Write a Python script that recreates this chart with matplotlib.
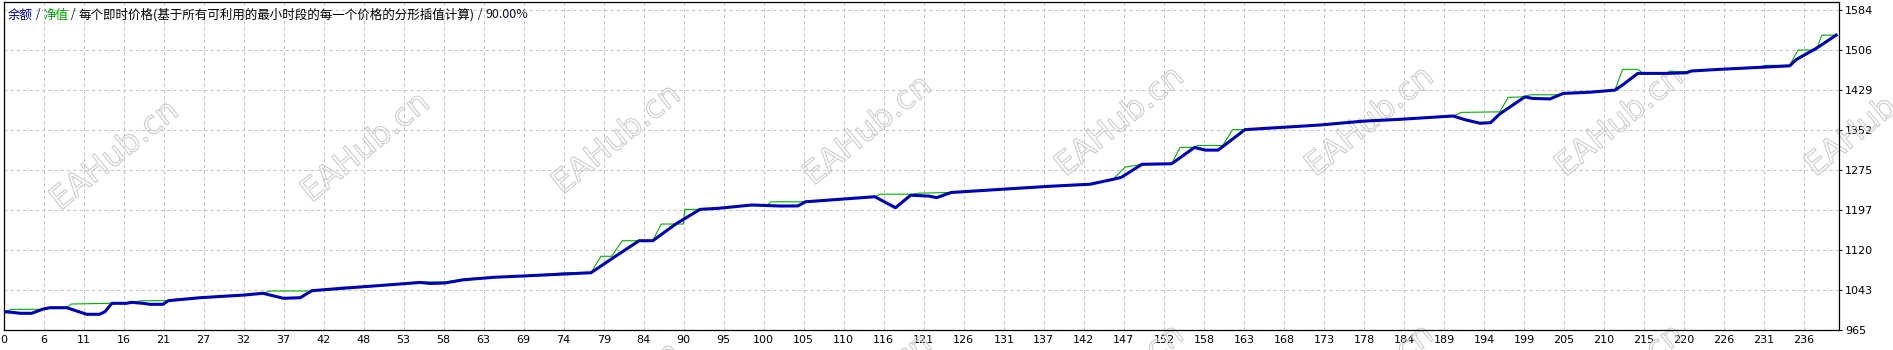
import matplotlib
matplotlib.use('Agg')
import matplotlib.pyplot as plt
import matplotlib.patheffects as pe
import numpy as np

# thick blue curve: trade number, account value
blue_x = [0, 1.1, 2.2, 3.7, 5.2, 6.1, 8.3, 9.6, 10.9, 12.6, 13.3, 14.2, 16.1, 16.8,
          18.3, 19.2, 20.9, 21.6, 25.8, 31.6, 34.0, 36.7, 38.9, 40.4, 43.2, 47.2,
          52.0, 54.6, 55.9, 57.9, 60.2, 64.3, 68.0, 73.5, 77.0, 80.0, 83.3, 85.1,
          88.1, 91.3, 93.6, 98.1, 101.9, 104.1, 105.1, 114.2, 116.9, 118.9, 121.3,
          122.3, 124.2, 130.6, 137.1, 142.4, 145.4, 146.5, 149.2, 153.1, 156.1,
          157.5, 159.2, 162.7, 166.8, 172.5, 178.2, 183.0, 190.0, 191.5, 193.5,
          194.9, 196.1, 199.4, 200.4, 202.7, 204.4, 207.9, 211.2, 212.2, 214.2,
          218.0, 220.6, 221.2, 224.9, 234.1, 235.0, 237.6, 240.2]
blue_y = [1000.4, 999.2, 997.3, 997.3, 1005.6, 1008.1, 1008.1, 1001.7, 995.4, 995.4,
          1000.4, 1016.6, 1016.6, 1018.5, 1016.6, 1014.7, 1014.7, 1021.7, 1027.5,
          1032.7, 1036.0, 1026.3, 1027.5, 1041.0, 1044.3, 1048.7, 1054.0, 1057.0,
          1055.0, 1056.0, 1062.0, 1067.0, 1069.4, 1073.3, 1075.8, 1105.6, 1137.7,
          1137.7, 1170.0, 1198.4, 1200.3, 1206.8, 1204.8, 1205.0, 1213.0, 1222.8,
          1201.5, 1225.8, 1224.0, 1221.0, 1231.0, 1237.0, 1243.0, 1247.0, 1256.4,
          1260.3, 1285.5, 1286.6, 1318.2, 1313.0, 1313.0, 1352.6, 1356.3, 1361.5,
          1369.0, 1372.5, 1379.0, 1372.0, 1365.0, 1366.0, 1383.0, 1416.0, 1413.0,
          1412.0, 1422.6, 1425.0, 1429.0, 1439.0, 1461.4, 1461.4, 1462.6, 1466.0,
          1469.2, 1476.0, 1488.5, 1510.0, 1535.5]

# thin green curve
green_x = [0, 1.1, 4.8, 5.2, 6.1, 8.3, 8.9, 14.2, 16.1, 16.8, 18.1, 21.6, 22.7, 24.4,
           25.8, 31.6, 34.0, 34.9, 40.2, 40.4, 43.2, 44.1, 46.7, 47.2, 52.0, 54.6,
           57.9, 60.2, 61.5, 64.3, 68.0, 73.7, 77.0, 78.3, 79.7, 81.1, 85.1, 86.2,
           89.1, 89.3, 91.3, 93.6, 98.1, 100.1, 100.6, 105.1, 114.2, 114.9, 119.2,
           119.9, 124.2, 130.6, 137.1, 142.4, 145.4, 147.0, 149.2, 153.1, 154.2,
           156.1, 156.5, 159.8, 161.1, 162.7, 166.8, 172.5, 178.2, 183.0, 190.0,
           191.1, 196.1, 197.2, 199.4, 200.0, 204.2, 205.0, 207.9, 211.2, 212.2,
           214.2, 214.9, 218.0, 218.4, 221.0, 221.2, 224.9, 230.2, 230.9, 234.1,
           235.2, 237.6, 238.3, 240.2]
green_y = [1000.4, 1005.0, 1005.0, 1006.0, 1008.8, 1008.8, 1015.3, 1016.6, 1017.0,
           1018.5, 1021.7, 1021.7, 1025.0, 1025.0, 1027.5, 1033.0, 1036.0, 1040.4,
           1040.4, 1041.0, 1044.3, 1047.5, 1047.5, 1048.7, 1054.0, 1058.0, 1058.0,
           1063.0, 1065.0, 1067.0, 1069.4, 1075.8, 1075.8, 1107.6, 1107.6, 1137.7,
           1137.7, 1170.0, 1170.0, 1198.4, 1198.4, 1200.3, 1206.8, 1206.8, 1213.0,
           1213.0, 1222.8, 1227.7, 1227.7, 1229.7, 1231.0, 1237.0, 1243.0, 1247.0,
           1256.4, 1280.0, 1285.5, 1286.6, 1318.2, 1318.2, 1322.0, 1322.0, 1352.6,
           1352.6, 1356.3, 1361.5, 1369.0, 1372.5, 1379.0, 1386.0, 1387.0, 1415.0,
           1416.0, 1420.0, 1420.0, 1423.5, 1425.0, 1429.0, 1469.2, 1469.2, 1461.4,
           1461.4, 1465.0, 1465.0, 1466.0, 1469.2, 1474.0, 1477.0, 1477.0, 1506.6,
           1506.6, 1535.3, 1535.5]

x_labels = ['0', '6', '11', '16', '21', '27', '32', '37', '42', '48', '53', '58', '63',
            '69', '74', '79', '84', '90', '95', '100', '105', '110', '116', '121',
            '126', '131', '137', '142', '147', '152', '158', '163', '168', '173',
            '178', '184', '189', '194', '199', '205', '210', '215', '220', '226',
            '231', '236']
y_labels = ['965', '1043', '1120', '1197', '1275', '1352', '1429', '1506', '1584']

title_parts = [('余额', '#0000a0'), (' / ', '#202020'), ('净值', '#00a000'),
               (' / ', '#202020'),
               ('每个即时价格(基于所有可利用的最小时段的每一个价格的分形插值计算)', 'black'),
               (' / ', '#202020'), ('90.00%', '#101030')]

W, H = 1893, 350
fig = plt.figure(figsize=(W / 100, H / 100), dpi=100)
ax = fig.add_axes([3.5 / W, 20 / H, 1835 / W, 328 / H])

ax.set_xlim(0, 240.5)
ax.set_ylim(965, 1599.5)

xt = np.arange(len(x_labels)) * float(x_labels[-1]) / (len(x_labels) - 1)
ax.set_xticks(xt)
ax.set_xticklabels(x_labels)
ax.set_yticks(np.linspace(965, 1584, len(y_labels)))
ax.set_yticklabels(y_labels)
ax.yaxis.tick_right()
ax.tick_params(axis='x', length=0, pad=3.5, labelsize=8, colors='black')
ax.tick_params(axis='y', length=2, width=0.75, pad=2.5, labelsize=8, colors='black')
ax.grid(True, color='#c4c4c4', linestyle=(0, (3, 3)), linewidth=0.75)
ax.set_axisbelow(True)
for s in ax.spines.values():
    s.set_linewidth(0.9)
    s.set_color('black')

# hollow "EAHub.cn" watermark, two rows (second row mostly below the figure)
wm_x = [115, 366, 617, 868, 1120, 1370, 1620, 1870]
wm_y = [156, 148, 140, 131, 122, 122, 122, 122]
for cx, cy in zip(wm_x, wm_y):
    for dy in (0, 258):
        ax.text(cx / W, 1 - (cy + dy) / H, 'EAHub.cn', transform=fig.transFigure,
                fontsize=23, rotation=39, ha='center', va='center', color='none',
                path_effects=[pe.Stroke(linewidth=0.8, foreground='#cdcdcd')],
                zorder=1, clip_on=False)

ax.plot(green_x, green_y, color='#00b000', linewidth=0.8, zorder=3)
ax.plot(blue_x, blue_y, color='#0000b4', linewidth=2.2, zorder=4)

# title pieces in different colours, each placed right after the previous one
fam = ['Noto Sans CJK SC', 'DejaVu Sans']
prev = fig.text(8 / W, 1 - 15 / H, title_parts[0][0], color=title_parts[0][1],
                fontsize=9, va='center', ha='left', family=fam)
for txt, col in title_parts[1:]:
    prev = ax.annotate(txt, xy=(1, 0.5), xycoords=prev, va='center', ha='left',
                       color=col, fontsize=9, family=fam, annotation_clip=False)

fig.savefig('out.png', dpi=100)
